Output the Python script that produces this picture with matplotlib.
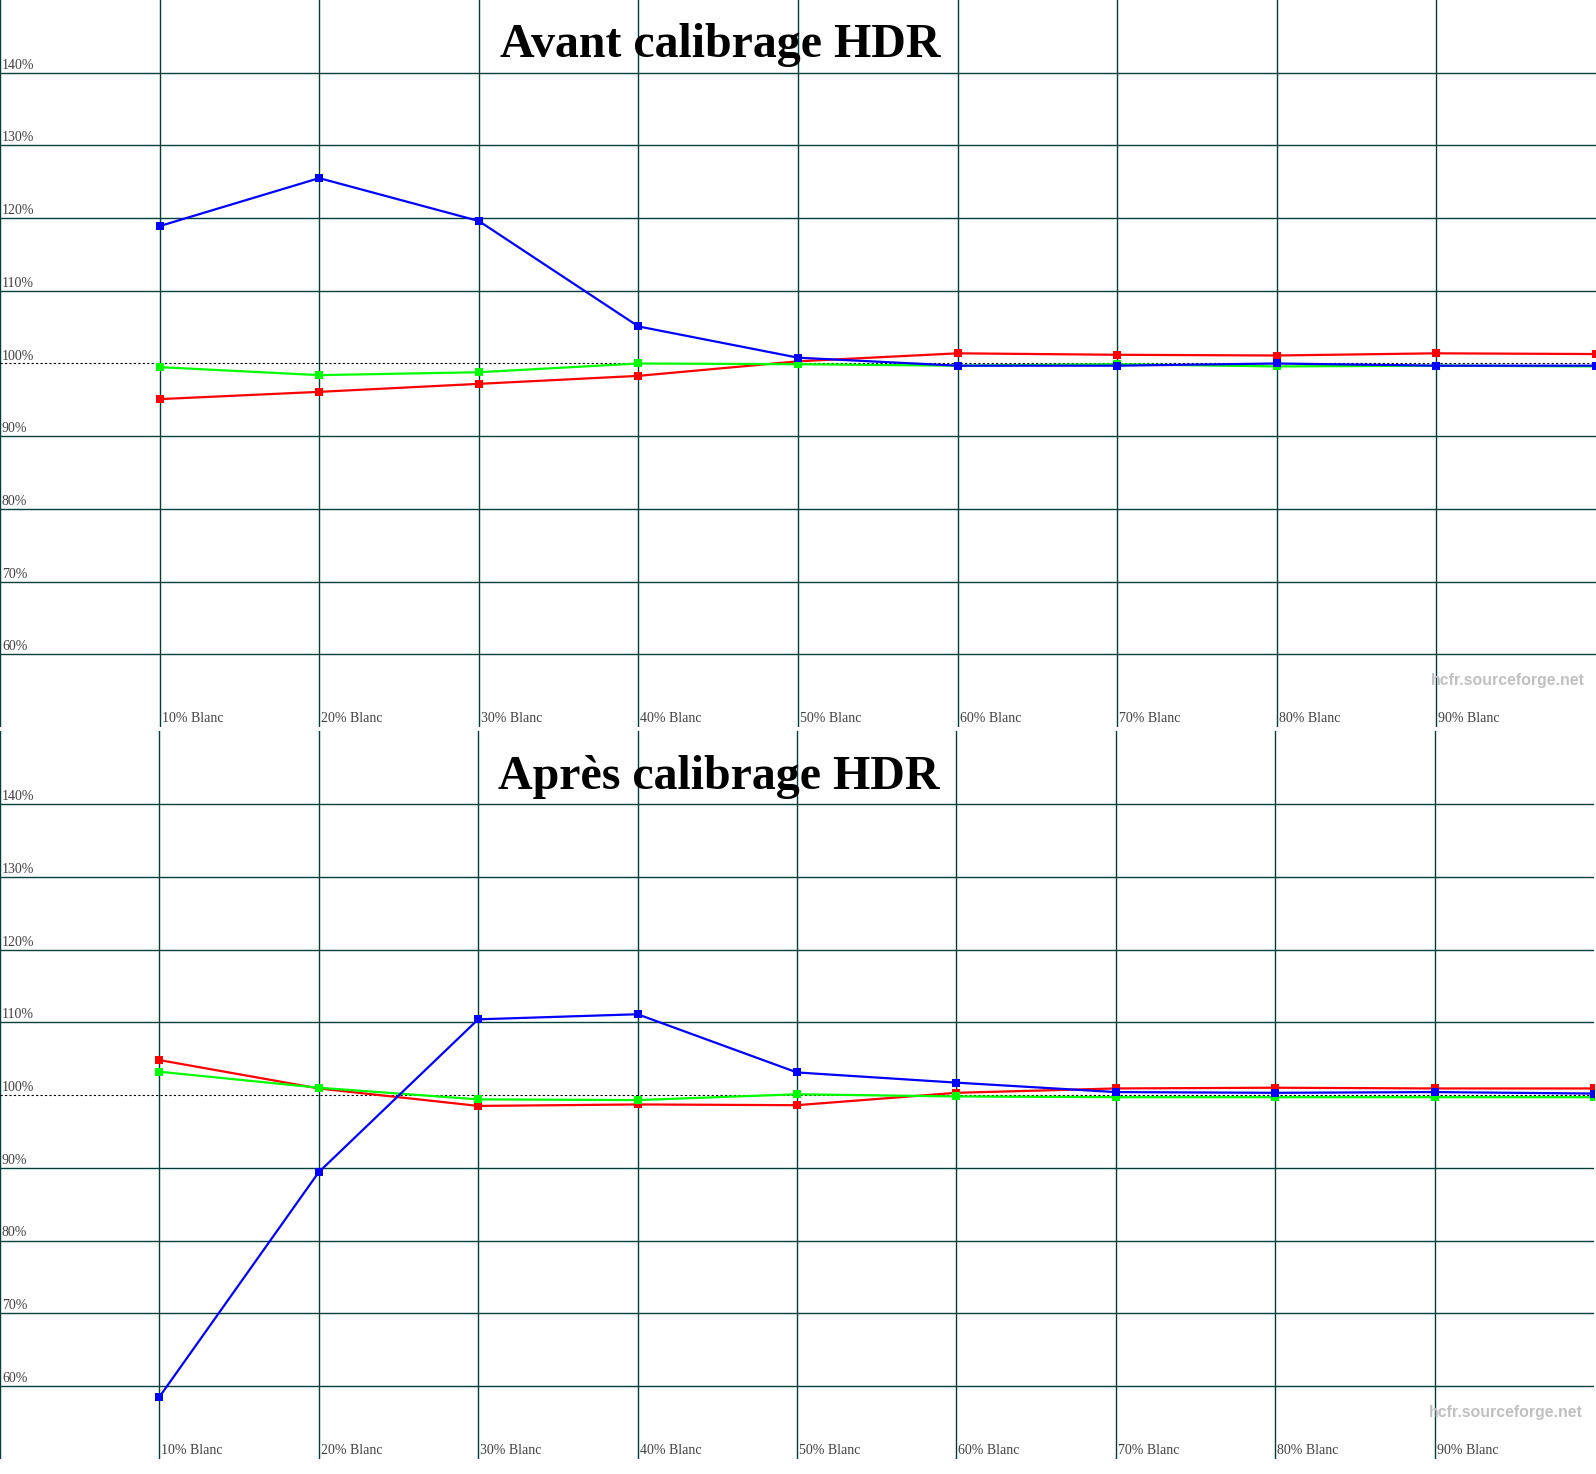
import numpy as np
import matplotlib
matplotlib.use('Agg')
import matplotlib.pyplot as plt

# niveaux de blanc (10% .. 100%), le dernier tombe sur le bord droit
niveaux = np.arange(1, 11)
etiquettes_x = ['10% Blanc', '20% Blanc', '30% Blanc', '40% Blanc', '50% Blanc',
                '60% Blanc', '70% Blanc', '80% Blanc', '90% Blanc']
graduations_y = [60, 70, 80, 90, 100, 110, 120, 130, 140]

avant_rouge = [95.1, 96.1, 97.2, 98.3, 100.3, 101.4, 101.2, 101.1, 101.4, 101.3]
avant_vert = [99.5, 98.4, 98.8, 100.0, 99.9, 99.7, 99.9, 99.6, 99.7, 99.6]
avant_bleu = [118.9, 125.5, 119.6, 105.1, 100.8, 99.7, 99.7, 100.0, 99.7, 99.7]

apres_rouge = [104.8, 100.9, 98.5, 98.7, 98.6, 100.3, 100.9, 101.0, 100.9, 100.9]
apres_vert = [103.2, 101.0, 99.4, 99.3, 100.1, 99.8, 99.7, 99.7, 99.7, 99.7]
apres_bleu = [58.5, 89.4, 110.4, 111.1, 103.1, 101.7, 100.4, 100.3, 100.4, 100.2]

grille = '#003f3a'
gris = '#404040'


def panneau(ax, titre, rouge, vert, bleu, haut_titre):
    ax.set_xlim(0, 10)
    ax.set_ylim(50, 150)
    ax.set_xticks([])
    ax.set_yticks([])
    for s in ax.spines.values():
        s.set_visible(False)

    for x in range(0, 10):
        ax.axvline(x, color=grille, lw=1.0, zorder=1)
    for v in graduations_y:
        if v == 100:
            ax.axhline(v, color='black', lw=0.8, ls=(0, (2, 2)), zorder=2)
        else:
            ax.axhline(v, color=grille, lw=1.0, zorder=1)
        ax.annotate(f'{v}%', xy=(0, v), xycoords=('axes fraction', 'data'),
                    xytext=(2, 4), textcoords='offset pixels', va='baseline',
                    ha='left', fontsize=10, family='Liberation Serif', color=gris)

    for i, lab in enumerate(etiquettes_x):
        ax.annotate(lab, xy=(i + 1, 0), xycoords=('data', 'axes fraction'),
                    xytext=(2, 5), textcoords='offset pixels', va='baseline',
                    ha='left', fontsize=10, family='Liberation Serif', color=gris)

    ax.plot(niveaux, rouge, color='#ff0000', lw=1.6, marker='s', ms=6.2, mew=0, zorder=3)
    ax.plot(niveaux, vert, color='#00ff00', lw=1.6, marker='s', ms=6.2, mew=0, zorder=4)
    ax.plot(niveaux, bleu, color='#0000ff', lw=1.6, marker='s', ms=6.2, mew=0, zorder=5)

    ax.annotate(titre, xy=(0.451, 1), xycoords='axes fraction', xytext=(0, -haut_titre),
                textcoords='offset pixels', ha='center', va='baseline',
                fontsize=34.5, fontweight='bold', family='Liberation Serif', color='black')
    ax.annotate('hcfr.sourceforge.net', xy=(1, 60), xycoords=('axes fraction', 'data'),
                xytext=(-11, -31), textcoords='offset pixels', ha='right', va='baseline',
                fontsize=11.4, fontweight='bold', family='Liberation Sans', color='#c0c0c0')


fig = plt.figure(figsize=(15.96, 14.74), dpi=100)
ax1 = fig.add_axes([0, 1 - 727 / 1474, 1, 727 / 1474])
ax2 = fig.add_axes([0, 15.25 / 1474, 0.9987, 727.5 / 1474])

panneau(ax1, 'Avant calibrage HDR', avant_rouge, avant_vert, avant_bleu, 57)
panneau(ax2, 'Après calibrage HDR', apres_rouge, apres_vert, apres_bleu, 58)

fig.savefig('out.png', dpi=100, facecolor='white')
